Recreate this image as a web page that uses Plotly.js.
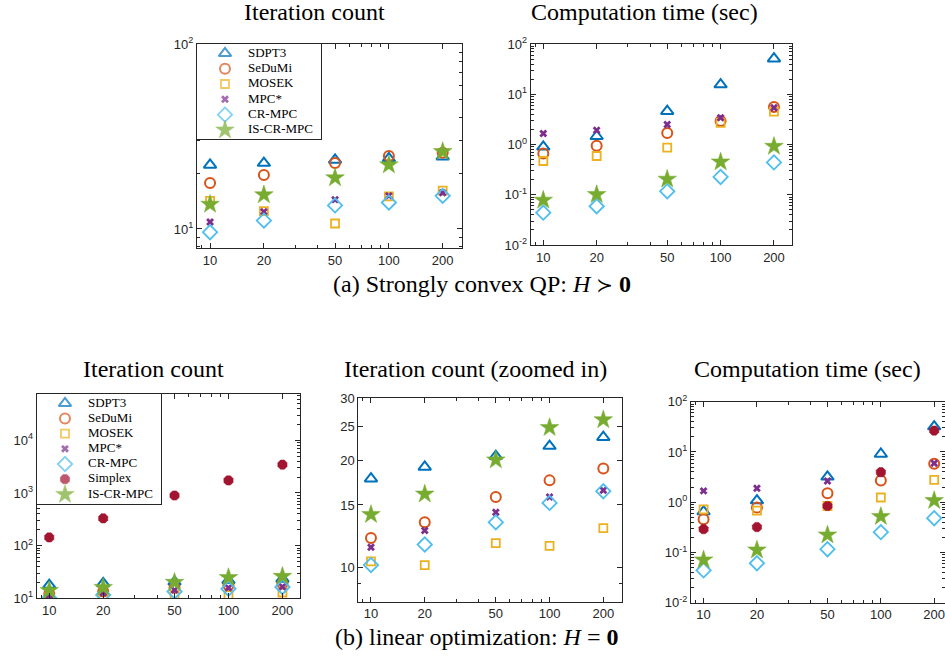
<!DOCTYPE html>
<html>
<head>
<meta charset="utf-8">
<script src="https://cdn.plot.ly/plotly-3.0.1.min.js"></script>
<style>html,body{margin:0;padding:0;background:#fff;} #chart{width:945px;height:660px;}</style>
</head>
<body>
<div id="chart"></div>
<script>
// ---------- data ----------
const sizes = [10, 20, 50, 100, 200];
const xTickVals = [10, 20, 50, 100, 200];
const xTickText = ['10', '20', '50', '100', '200'];

// (a) Strongly convex QP — iteration count
const qpIterSDPT3  = [22.2, 22.7, 23.6, 24.1, 24.6];
const qpIterSeDuMi = [17.7, 19.6, 22.7, 24.8, 25.8];
const qpIterMOSEK  = [14.2, 12.5, 10.7, 15.0, 16.1];
const qpIterMPC    = [10.9, 12.4, 14.4, 15.1, 15.7];
const qpIterCR     = [9.6, 11.1, 13.4, 13.9, 15.1];
const qpIterIS     = [13.6, 15.3, 18.9, 22.2, 26.2];

// (a) Strongly convex QP — computation time (sec)
const qpTimeSDPT3  = [0.90, 1.46, 4.6, 15.6, 51];
const qpTimeSeDuMi = [0.66, 0.94, 1.70, 2.95, 5.6];
const qpTimeMOSEK  = [0.47, 0.59, 0.87, 2.7, 4.5];
const qpTimeMPC    = [1.66, 1.93, 2.5, 3.4, 5.4];
const qpTimeCR     = [0.044, 0.059, 0.117, 0.226, 0.44];
const qpTimeIS     = [0.078, 0.101, 0.204, 0.45, 0.92];

// (b) linear optimization — iteration count
const lpIterSDPT3   = [17.8, 19.2, 20.6, 22.0, 23.3];
const lpIterSeDuMi  = [12.1, 13.4, 15.8, 17.6, 19.0];
const lpIterMOSEK   = [10.4, 10.15, 11.7, 11.5, 12.9];
const lpIterMPC     = [11.4, 12.7, 14.3, 15.8, 16.5];
const lpIterCR      = [10.15, 11.6, 13.4, 15.2, 16.4];
const lpIterSimplex = [143, 330, 896, 1730, 3450];
const lpIterIS      = [14.1, 16.1, 20.1, 24.8, 26.1];

// (b) linear optimization — computation time (sec)
const lpTimeSDPT3   = [0.65, 1.08, 3.2, 9.1, 32];
const lpTimeSeDuMi  = [0.46, 0.78, 1.51, 2.7, 5.8];
const lpTimeMOSEK   = [0.72, 0.68, 0.84, 1.24, 2.78];
const lpTimeMPC     = [1.68, 1.90, 2.65, 3.8, 5.97];
const lpTimeCR      = [0.044, 0.061, 0.116, 0.253, 0.48];
const lpTimeSimplex = [0.29, 0.32, 0.84, 3.95, 26.6];
const lpTimeIS      = [0.071, 0.112, 0.223, 0.52, 1.08];

// legend entries (series names) for the two legends
const legendQP = ['SDPT3', 'SeDuMi', 'MOSEK', 'MPC*', 'CR-MPC', 'IS-CR-MPC'];
const legendLP = ['SDPT3', 'SeDuMi', 'MOSEK', 'MPC*', 'CR-MPC', 'Simplex', 'IS-CR-MPC'];

const yTickValsTime = [0.01, 0.1, 1, 10, 100];
const yTickTextTime = ['10<sup>-2</sup>', '10<sup>-1</sup>', '10<sup>0</sup>', '10<sup>1</sup>', '10<sup>2</sup>'];
const yTickValsQPIter = [10, 100];
const yTickTextQPIter = ['10<sup>1</sup>', '10<sup>2</sup>'];
const yTickValsLPIter = [10, 100, 1000, 10000];
const yTickTextLPIter = ['10<sup>1</sup>', '10<sup>2</sup>', '10<sup>3</sup>', '10<sup>4</sup>'];
const yTickValsZoom = [10, 15, 20, 25, 30];
const yTickTextZoom = ['10', '15', '20', '25', '30'];

// ---------- styles ----------
const styles = {
  'SDPT3':  {symbol: 'triangle-up-open', size: 11, color: '#0072BD', lw: 2},
  'SeDuMi': {symbol: 'circle-open', size: 10, color: '#D95319', lw: 2},
  'MOSEK':  {symbol: 'square-open', size: 8, color: '#EDB120', lw: 1.8},
  'MPC*':   {symbol: 'x', size: 7, color: '#7E2F8E', lw: 0},
  'CR-MPC': {symbol: 'diamond-open', size: 11, color: '#4DBEEE', lw: 1.8},
  'Simplex': {symbol: 'octagon', size: 10, color: '#A2142F', lw: 0.5},
  'IS-CR-MPC': {symbol: 'star', size: 14, color: '#77AC30', lw: 0.5}
};

function mk(name, y, xa, ya) {
  const s = styles[name];
  return {
    type: 'scatter', mode: 'markers', name: name, x: sizes, y: y,
    xaxis: xa, yaxis: ya, showlegend: false,
    marker: {symbol: s.symbol, size: s.size, color: s.color, line: {color: s.color, width: s.lw}}
  };
}

const serif = 'Liberation Serif, Times New Roman, serif';

// legend drawn as a small categorical subplot: one marker per series name, plus its label
function legendTraces(names, xa, ya) {
  return [
    {
      type: 'scatter', mode: 'markers', x: names.map(() => 'key'), y: names,
      xaxis: xa, yaxis: ya, showlegend: false, cliponaxis: false,
      marker: {
        symbol: names.map(n => styles[n].symbol),
        size: names.map(n => styles[n].size),
        color: names.map(n => styles[n].color),
        line: {color: names.map(n => styles[n].color), width: names.map(n => styles[n].lw)}
      }
    },
    {
      type: 'scatter', mode: 'text', x: names.map(() => 'label'), y: names,
      text: names, textposition: 'middle right', cliponaxis: false,
      xaxis: xa, yaxis: ya, showlegend: false,
      textfont: {family: serif, size: 13, color: '#000'}
    }
  ];
}

const traces = [
  mk('SDPT3', qpIterSDPT3, 'x', 'y'),
  mk('SeDuMi', qpIterSeDuMi, 'x', 'y'),
  mk('MOSEK', qpIterMOSEK, 'x', 'y'),
  mk('MPC*', qpIterMPC, 'x', 'y'),
  mk('CR-MPC', qpIterCR, 'x', 'y'),
  mk('IS-CR-MPC', qpIterIS, 'x', 'y'),

  mk('SDPT3', qpTimeSDPT3, 'x2', 'y2'),
  mk('SeDuMi', qpTimeSeDuMi, 'x2', 'y2'),
  mk('MOSEK', qpTimeMOSEK, 'x2', 'y2'),
  mk('MPC*', qpTimeMPC, 'x2', 'y2'),
  mk('CR-MPC', qpTimeCR, 'x2', 'y2'),
  mk('IS-CR-MPC', qpTimeIS, 'x2', 'y2'),

  mk('SDPT3', lpIterSDPT3, 'x3', 'y3'),
  mk('SeDuMi', lpIterSeDuMi, 'x3', 'y3'),
  mk('MOSEK', lpIterMOSEK, 'x3', 'y3'),
  mk('MPC*', lpIterMPC, 'x3', 'y3'),
  mk('CR-MPC', lpIterCR, 'x3', 'y3'),
  mk('Simplex', lpIterSimplex, 'x3', 'y3'),
  mk('IS-CR-MPC', lpIterIS, 'x3', 'y3'),

  mk('SDPT3', lpIterSDPT3, 'x4', 'y4'),
  mk('SeDuMi', lpIterSeDuMi, 'x4', 'y4'),
  mk('MOSEK', lpIterMOSEK, 'x4', 'y4'),
  mk('MPC*', lpIterMPC, 'x4', 'y4'),
  mk('CR-MPC', lpIterCR, 'x4', 'y4'),
  mk('IS-CR-MPC', lpIterIS, 'x4', 'y4'),

  mk('SDPT3', lpTimeSDPT3, 'x5', 'y5'),
  mk('SeDuMi', lpTimeSeDuMi, 'x5', 'y5'),
  mk('MOSEK', lpTimeMOSEK, 'x5', 'y5'),
  mk('MPC*', lpTimeMPC, 'x5', 'y5'),
  mk('CR-MPC', lpTimeCR, 'x5', 'y5'),
  mk('Simplex', lpTimeSimplex, 'x5', 'y5'),
  mk('IS-CR-MPC', lpTimeIS, 'x5', 'y5')
].concat(legendTraces(legendQP, 'x6', 'y6'), legendTraces(legendLP, 'x7', 'y7'));

// ---------- layout ----------
const W = 945, H = 660;
const ink = '#262626';
const tickFont = {family: 'Liberation Sans, Arial, sans-serif', size: 13, color: ink};

function px(a, b) { return [a / W, b / W]; }
function py(top, bottom) { return [1 - bottom / H, 1 - top / H]; }

function xax(domain, range, anchor) {
  return {
    type: 'log', domain: domain, range: range, anchor: anchor,
    tickmode: 'array', tickvals: xTickVals, ticktext: xTickText,
    ticks: 'inside', ticklen: 5, tickcolor: ink, tickwidth: 1,
    minor: {ticks: 'inside', ticklen: 3, tickcolor: ink, dtick: 'D1', showgrid: false},
    showline: true, linecolor: ink, linewidth: 1, mirror: 'ticks',
    showgrid: false, zeroline: false, tickfont: tickFont, fixedrange: true,
    ticklabeloverflow: 'allow'
  };
}
function yax(domain, range, anchor, vals, text) {
  return {
    type: 'log', domain: domain, range: range, anchor: anchor,
    tickmode: 'array', tickvals: vals, ticktext: text,
    ticks: 'inside', ticklen: 5, tickcolor: ink, tickwidth: 1,
    minor: {ticks: 'inside', ticklen: 3, tickcolor: ink, dtick: 'D1', showgrid: false},
    showline: true, linecolor: ink, linewidth: 1, mirror: 'ticks',
    showgrid: false, zeroline: false, tickfont: tickFont, fixedrange: true
  };
}
function boxax(domain, range, anchor) {
  return {
    type: 'category', domain: domain, range: range, anchor: anchor,
    showline: true, mirror: true, linecolor: ink, linewidth: 1,
    ticks: '', showticklabels: false, showgrid: false, zeroline: false, fixedrange: true
  };
}

const succ = '<span style="font-family:DejaVu Sans;font-weight:normal;font-size:20px">≻</span>';

const layout = {
  width: W, height: H,
  margin: {l: 0, r: 0, t: 0, b: 0, pad: 0},
  paper_bgcolor: '#ffffff', plot_bgcolor: '#ffffff',
  showlegend: false,

  xaxis:  xax(px(197, 462), [0.927, 2.409], 'y'),
  yaxis:  yax(py(44, 248), [0.897, 2], 'x', yTickValsQPIter, yTickTextQPIter),
  xaxis2: xax(px(530.7, 791.7), [0.929, 2.401], 'y2'),
  yaxis2: yax(py(44, 245), [-2, 2], 'x2', yTickValsTime, yTickTextTime),
  xaxis3: xax(px(36.7, 300), [0.93, 2.399], 'y3'),
  yaxis3: yax(py(394, 598.3), [1, 4.88], 'x3', yTickValsLPIter, yTickTextLPIter),
  xaxis4: xax(px(358.3, 621.7), [0.929, 2.404], 'y4'),
  yaxis4: yax(py(398.3, 601.7), [Math.log10(8), Math.log10(30)], 'x4', yTickValsZoom, yTickTextZoom),
  xaxis5: xax([691 / W, 1], [0.929, 2.362], 'y5'),
  yaxis5: yax(py(401.7, 602.7), [-2, 2], 'x5', yTickValsTime, yTickTextTime),

  // legend boxes
  xaxis6: boxax(px(197, 321), [-1.217, 4.174], 'y6'),
  yaxis6: boxax(py(44, 139.3), [5.61, -0.61], 'x6'),
  xaxis7: boxax(px(37, 161), [-1.217, 4.174], 'y7'),
  yaxis7: boxax(py(394, 504), [6.63, -0.61], 'x7'),

  annotations: [
    {text: 'Iteration count', x: 314 / W, y: 1 - 12 / H},
    {text: 'Computation time (sec)', x: 644 / W, y: 1 - 12 / H},
    {text: '(a) Strongly convex QP: <i>H</i> ' + succ + ' <b>0</b>', x: 482 / W, y: 1 - 284 / H},
    {text: 'Iteration count', x: 153 / W, y: 1 - 369 / H},
    {text: 'Iteration count (zoomed in)', x: 475 / W, y: 1 - 369 / H},
    {text: 'Computation time (sec)', x: 807 / W, y: 1 - 369 / H},
    {text: '(b) linear optimization: <i>H</i> = <b>0</b>', x: 477 / W, y: 1 - 637 / H}
  ].map(a => Object.assign({
    xref: 'paper', yref: 'paper', xanchor: 'center', yanchor: 'middle', showarrow: false,
    font: {family: serif, size: 24, color: '#000'}
  }, a))
};

Plotly.newPlot('chart', traces, layout, {displayModeBar: false, staticPlot: true});
</script>
</body>
</html>
